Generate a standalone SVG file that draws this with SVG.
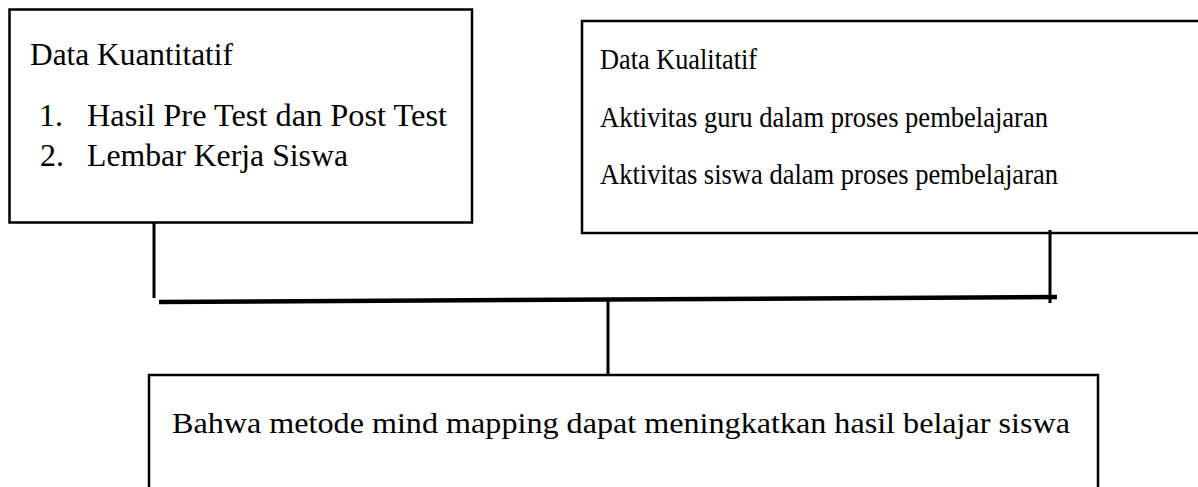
<svg xmlns="http://www.w3.org/2000/svg" width="1198" height="487" viewBox="0 0 1198 487">
<style>
.box{fill:#fff;stroke:#000;stroke-width:2.5}
.t{font-family:"Liberation Serif","Times New Roman",serif;fill:#000}
.c{stroke:#000;stroke-width:3;fill:none}
.main{stroke:#000;stroke-width:4.5;fill:none}
</style>
<rect width="1198" height="487" fill="#fff"/>
<g id="kuantitatif">
<rect class="box" x="9.5" y="9.5" width="462.5" height="213"/>
<text class="t" x="30" y="65" font-size="31" textLength="203" lengthAdjust="spacingAndGlyphs">Data Kuantitatif</text>
<text class="t" x="39" y="126" font-size="32">1.</text>
<text class="t" x="87" y="126" font-size="32" textLength="360" lengthAdjust="spacingAndGlyphs">Hasil Pre Test dan Post Test</text>
<text class="t" x="40" y="166" font-size="32">2.</text>
<text class="t" x="87" y="166" font-size="32" textLength="261" lengthAdjust="spacingAndGlyphs">Lembar Kerja Siswa</text>
</g>
<g id="kualitatif">
<rect class="box" x="582" y="21" width="630" height="212"/>
<text class="t" x="600" y="69" font-size="30" textLength="157" lengthAdjust="spacingAndGlyphs">Data Kualitatif</text>
<text class="t" x="600" y="127" font-size="30" textLength="448" lengthAdjust="spacingAndGlyphs">Aktivitas guru dalam proses pembelajaran</text>
<text class="t" x="600" y="184" font-size="30" textLength="458" lengthAdjust="spacingAndGlyphs">Aktivitas siswa dalam proses pembelajaran</text>
</g>
<g id="kesimpulan">
<rect class="box" x="149" y="375" width="949" height="130"/>
<text class="t" x="172" y="433" font-size="30" textLength="898" lengthAdjust="spacingAndGlyphs">Bahwa metode mind mapping dapat meningkatkan hasil belajar siswa</text>
</g>
<g id="connectors">
<line class="c" x1="154" y1="223" x2="154" y2="298"/>
<line class="c" x1="1050" y1="230" x2="1050" y2="303"/>
<line class="main" x1="159" y1="302" x2="1057" y2="297"/>
<line class="c" x1="608" y1="300" x2="608" y2="375"/>
</g>
</svg>
